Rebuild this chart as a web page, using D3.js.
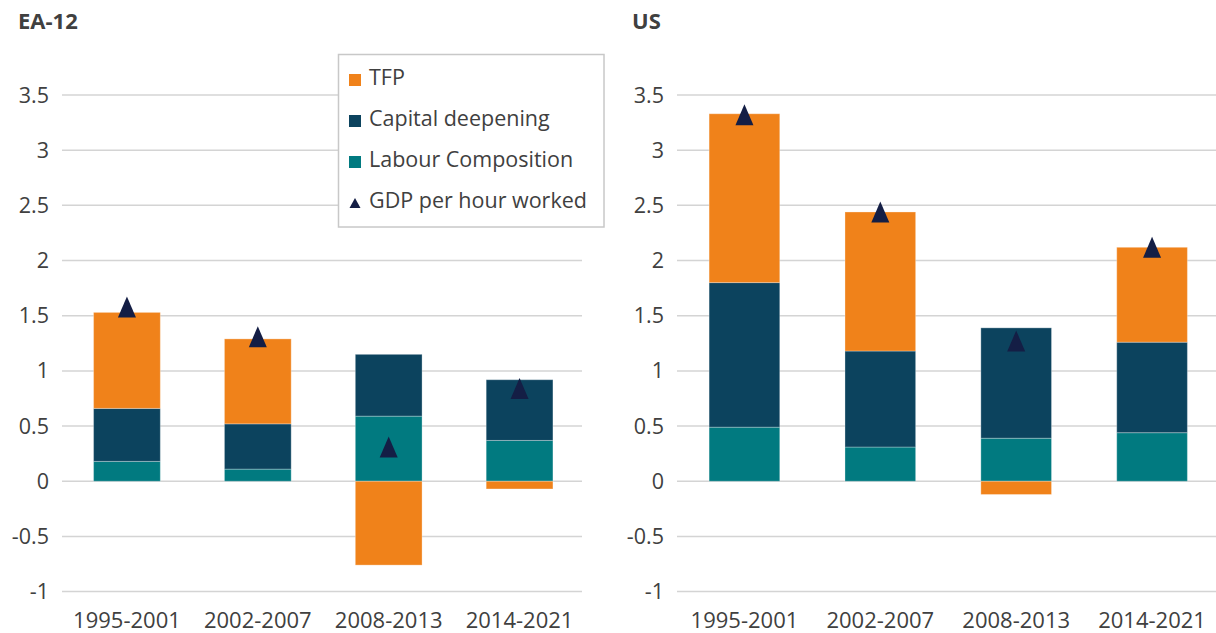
<!DOCTYPE html>
<html>
<head>
<meta charset="utf-8">
<script src="https://cdn.jsdelivr.net/npm/d3@7"></script>
<style>
  body { margin: 0; background: #fff; }
  svg text { font-family: "Open Sans", sans-serif; fill: #404040; }
</style>
</head>
<body>
<svg id="chart" width="1216" height="633"></svg>
<script>
// periods on the x axis
var periods = ["1995-2001", "2002-2007", "2008-2013", "2014-2021"];
var yTicks = [-1, -0.5, 0, 0.5, 1, 1.5, 2, 2.5, 3, 3.5];

// EA-12 contributions
var eaLabour = [0.18, 0.11, 0.59, 0.37];
var eaCapital = [0.48, 0.41, 0.56, 0.55];
var eaTfp = [0.87, 0.77, -0.76, -0.07];
var eaGdp = [1.58, 1.31, 0.31, 0.84];

// US contributions
var usLabour = [0.49, 0.31, 0.39, 0.44];
var usCapital = [1.31, 0.87, 1.00, 0.82];
var usTfp = [1.53, 1.26, -0.12, 0.86];
var usGdp = [3.32, 2.44, 1.27, 2.12];

var keys = ["labour", "capital", "tfp"];
var colors = {tfp: "#F0821A", capital: "#0C435E", labour: "#017A80", gdp: "#141E45"};

var svg = d3.select("#chart");

// y scale shared by both panels
var y = d3.scaleLinear().domain([-1, 3.5]).range([591.6, 95]);

// triangle marker, a bit taller than wide like the original
function triangle(w, h) {
  return "M0," + (-h / 2) + "L" + (w / 2) + "," + (h / 2) + "L" + (-w / 2) + "," + (h / 2) + "Z";
}

function buildRows(labour, capital, tfp, gdp) {
  return periods.map(function(p, i) {
    return {period: p, labour: labour[i], capital: capital[i], tfp: tfp[i], gdp: gdp[i]};
  });
}

function drawPanel(opts) {
  var rows = buildRows(opts.labour, opts.capital, opts.tfp, opts.gdp);
  var x = d3.scaleBand().domain(periods).range(opts.xRange)
    .paddingInner(opts.pad).paddingOuter(opts.pad / 2);
  var g = svg.append("g");

  // title
  g.append("text")
    .attr("x", opts.titleX).attr("y", 29)
    .style("font-size", "22px").style("font-weight", "bold")
    .text(opts.title);

  // gridlines
  g.selectAll(".grid").data(yTicks).enter().append("line")
    .attr("x1", opts.gridX[0]).attr("x2", opts.gridX[1])
    .attr("y1", function(d) { return y(d); })
    .attr("y2", function(d) { return y(d); })
    .style("stroke", "#d4d4d4").style("stroke-width", 1.5);

  // y tick labels
  g.selectAll(".ytick").data(yTicks).enter().append("text")
    .attr("x", opts.gridX[0] - 13)
    .attr("y", function(d) { return y(d); })
    .attr("dy", "0.35em")
    .style("font-size", "21.5px")
    .style("text-anchor", "end")
    .text(function(d) { return d; });

  // stacked bars (negatives stack below zero)
  var series = d3.stack().keys(keys).offset(d3.stackOffsetDiverging)(rows);
  g.selectAll(".series").data(series).enter().append("g")
    .style("fill", function(s) { return colors[s.key]; })
    .selectAll("rect").data(function(s) { return s; }).enter().append("rect")
    .attr("x", function(d) { return x(d.data.period); })
    .attr("width", x.bandwidth())
    .attr("y", function(d) { return y(Math.max(d[0], d[1])); })
    .attr("height", function(d) { return Math.abs(y(d[0]) - y(d[1])); })
    .style("stroke", "rgba(255,255,255,0.3)").style("stroke-width", 1);

  // GDP per hour triangles
  g.selectAll(".gdp").data(rows).enter().append("path")
    .attr("d", triangle(18, 21))
    .attr("transform", function(d) {
      return "translate(" + (x(d.period) + x.bandwidth() / 2) + "," + y(d.gdp) + ")";
    })
    .style("fill", colors.gdp);

  // x labels
  g.selectAll(".xlab").data(periods).enter().append("text")
    .attr("x", function(d) { return x(d) + x.bandwidth() / 2; })
    .attr("y", 628)
    .style("font-size", "22px")
    .style("text-anchor", "middle")
    .text(function(d) { return d; });
}

drawPanel({title: "EA-12", titleX: 18, xRange: [61.5, 585], gridX: [62, 582], pad: 0.49,
  labour: eaLabour, capital: eaCapital, tfp: eaTfp, gdp: eaGdp});
drawPanel({title: "US", titleX: 632, xRange: [676.5, 1220], gridX: [677, 1216], pad: 0.48,
  labour: usLabour, capital: usCapital, tfp: usTfp, gdp: usGdp});

// legend
var legendItems = [
  {label: "TFP", key: "tfp"},
  {label: "Capital deepening", key: "capital"},
  {label: "Labour Composition", key: "labour"},
  {label: "GDP per hour worked", key: "gdp"}
];
var lg = svg.append("g");
lg.append("rect")
  .attr("x", 338.5).attr("y", 54.5).attr("width", 265.5).attr("height", 172.5)
  .style("fill", "#fff").style("stroke", "#c8c8c8").style("stroke-width", 1.5);
var item = lg.selectAll(".item").data(legendItems).enter().append("g")
  .attr("transform", function(d, i) { return "translate(0," + (85 + i * 41) + ")"; });
item.filter(function(d) { return d.key !== "gdp"; }).append("rect")
  .attr("x", 349).attr("y", -11).attr("width", 12).attr("height", 12)
  .style("fill", function(d) { return colors[d.key]; });
item.filter(function(d) { return d.key === "gdp"; }).append("path")
  .attr("d", "M355,-10L360.5,0L349.5,0Z")
  .style("fill", colors.gdp);
item.append("text")
  .attr("x", 369).attr("y", 0)
  .style("font-size", "21.5px")
  .text(function(d) { return d.label; });
</script>
</body>
</html>
